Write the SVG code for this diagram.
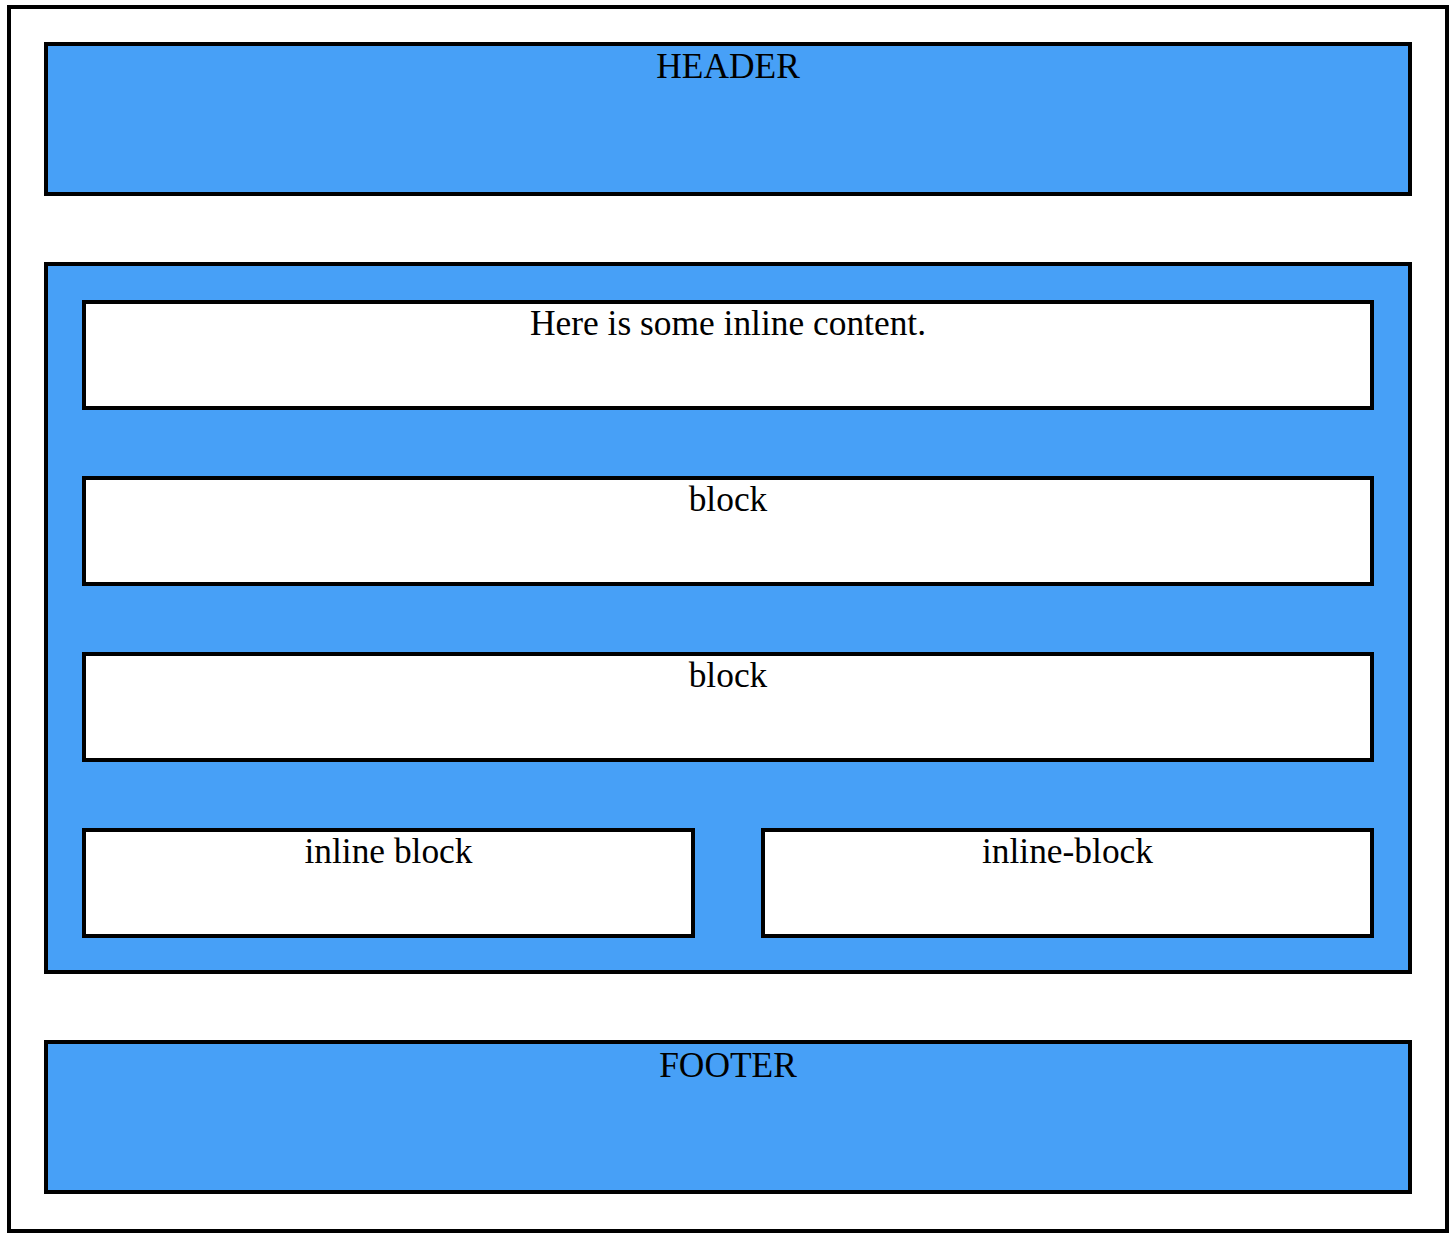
<svg xmlns="http://www.w3.org/2000/svg" width="1452" height="1236" viewBox="0 0 1452 1236">
  <style>
    .frame { fill: #ffffff; stroke: #000000; stroke-width: 4; }
    .section { fill: #47a0f7; stroke: #000000; stroke-width: 4; }
    .box { fill: #ffffff; stroke: #000000; stroke-width: 4; }
    .label { font-family: "Liberation Serif", "Times New Roman", serif; font-size: 35.4px; fill: #000000; text-anchor: middle; }
  </style>
  <rect width="1452" height="1236" fill="#ffffff"/>

  <!-- page frame -->
  <g id="page">
    <rect class="frame" x="9" y="7" width="1438" height="1224"/>
  </g>

  <g id="header">
    <rect class="section" x="46" y="44" width="1364" height="150"/>
    <text class="label" x="728" y="78">HEADER</text>
  </g>

  <g id="main">
    <rect class="section" x="46" y="264" width="1364" height="708"/>
  </g>

  <g id="inline-content">
    <rect class="box" x="84" y="302" width="1288" height="106"/>
    <text class="label" x="728" y="335">Here is some inline content.</text>
  </g>

  <g id="block-1">
    <rect class="box" x="84" y="478" width="1288" height="106"/>
    <text class="label" x="728" y="511">block</text>
  </g>

  <g id="block-2">
    <rect class="box" x="84" y="654" width="1288" height="106"/>
    <text class="label" x="728" y="687">block</text>
  </g>

  <g id="inline-block-1">
    <rect class="box" x="84" y="830" width="609" height="106"/>
    <text class="label" x="388.5" y="863">inline block</text>
  </g>

  <g id="inline-block-2">
    <rect class="box" x="763" y="830" width="609" height="106"/>
    <text class="label" x="1067.5" y="863">inline-block</text>
  </g>

  <g id="footer">
    <rect class="section" x="46" y="1042" width="1364" height="150"/>
    <text class="label" x="728" y="1077">FOOTER</text>
  </g>

  <g id="connectors"/>
</svg>
